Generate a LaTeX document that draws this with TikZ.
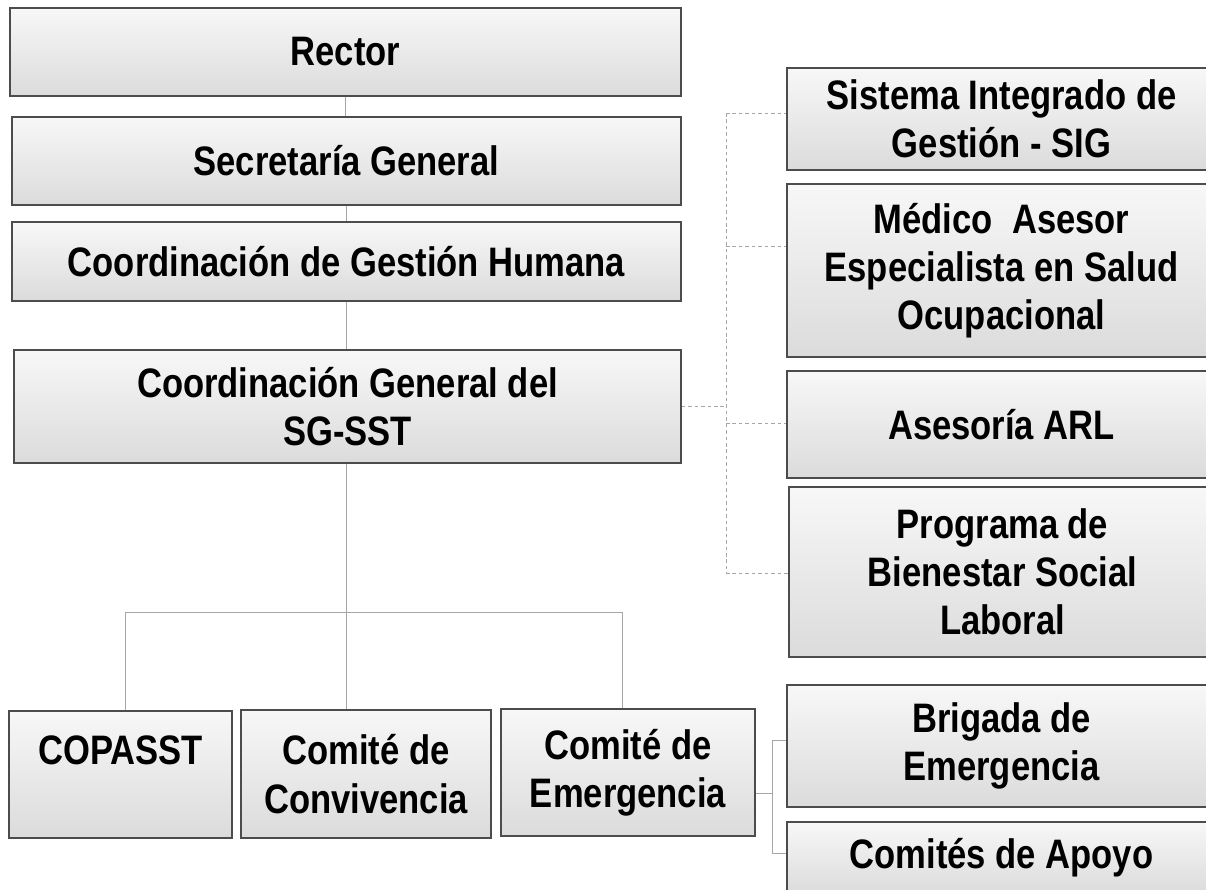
\documentclass[tikz,border=0pt]{standalone}
\usepackage{fontspec}
\setmainfont{Liberation Sans}[FakeStretch=0.84]
\begin{document}
\begin{tikzpicture}[x=0.85pt,y=-0.85pt,
    box/.style={draw=black!70, line width=1.1pt, top color=black!3, bottom color=black!14,
        inner sep=0pt, align=center, text=black,
        font=\bfseries\fontsize{35}{41}\selectfont},
    tree/.style={draw=black!35, line width=0.8pt},
    adv/.style={draw=black!35, line width=0.8pt, dash pattern=on 3pt off 2.5pt}]
\useasboundingbox (0,0) rectangle (1206,890);
% main line
\node[box, minimum width=671*0.85pt, minimum height=88*0.85pt] (rector) at (345.5,52) {Rector};
\node[box, minimum width=669*0.85pt, minimum height=88*0.85pt] (secretaria) at (346.5,161) {Secretaría General};
\node[box, minimum width=669*0.85pt, minimum height=79*0.85pt] (gestion) at (346.5,261.5) {Coordinación de Gestión Humana};
\node[box, minimum width=667*0.85pt, minimum height=113*0.85pt] (sgsst) at (347.5,406.5) {Coordinación General del\\SG-SST};
% advisers
\node[box, minimum width=429*0.85pt, minimum height=102*0.85pt] (sig) at (1001.5,119) {Sistema Integrado de\\Gestión - SIG};
\node[box, minimum width=429*0.85pt, minimum height=173*0.85pt] (medico) at (1001.5,270.5) {Médico\ \ Asesor\\Especialista en Salud\\Ocupacional};
\node[box, minimum width=429*0.85pt, minimum height=107*0.85pt] (arl) at (1001.5,424.5) {Asesoría ARL};
\node[box, minimum width=427*0.85pt, minimum height=170*0.85pt] (programa) at (1002.5,572) {Programa de\\Bienestar Social\\Laboral};
% committees
\node[box, minimum width=223*0.85pt, minimum height=127*0.85pt] (copasst) at (120.5,774.5) {COPASST\\\mbox{}};
\node[box, minimum width=250*0.85pt, minimum height=128*0.85pt] (convivencia) at (366,774) {Comité de\\Convivencia};
\node[box, minimum width=254*0.85pt, minimum height=127*0.85pt] (emergencia) at (628,772.5) {Comité de\\Emergencia};
\node[box, minimum width=429*0.85pt, minimum height=122*0.85pt] (brigada) at (1001.5,746) {Brigada de\\Emergencia};
\node[box, minimum width=429*0.85pt, minimum height=72*0.85pt] (apoyo) at (1001.5,858) {Comités de Apoyo};

\draw[tree] (rector.south) -- (rector.south |- secretaria.north);
\draw[tree] (secretaria.south) -- (secretaria.south |- gestion.north);
\draw[tree] (gestion.south) -- (gestion.south |- sgsst.north);
\coordinate (fork) at (346,612);
\draw[tree] (sgsst.south -| fork) -- (fork);
\draw[tree] (copasst.north -| 125,0) -- (125,612) -- (622,612) -- (emergencia.north -| 622,0);
\draw[tree] (fork) -- (fork |- convivencia.north);

\draw[adv] (sgsst.east) -- (726,406.5);
\draw[adv] (726,113) -- (726,573);
\foreach \n/\y in {sig/113, medico/246, arl/423, programa/573}
{
    \draw[adv] (726,\y) -- (\n.west |- 0,\y);
}

\draw[tree] (emergencia.east |- 0,793) -- (772,793);
\draw[tree] (brigada.west |- 0,740) -- (772,740) -- (772,853) -- (apoyo.west |- 0,853);
\end{tikzpicture}
\end{document}
